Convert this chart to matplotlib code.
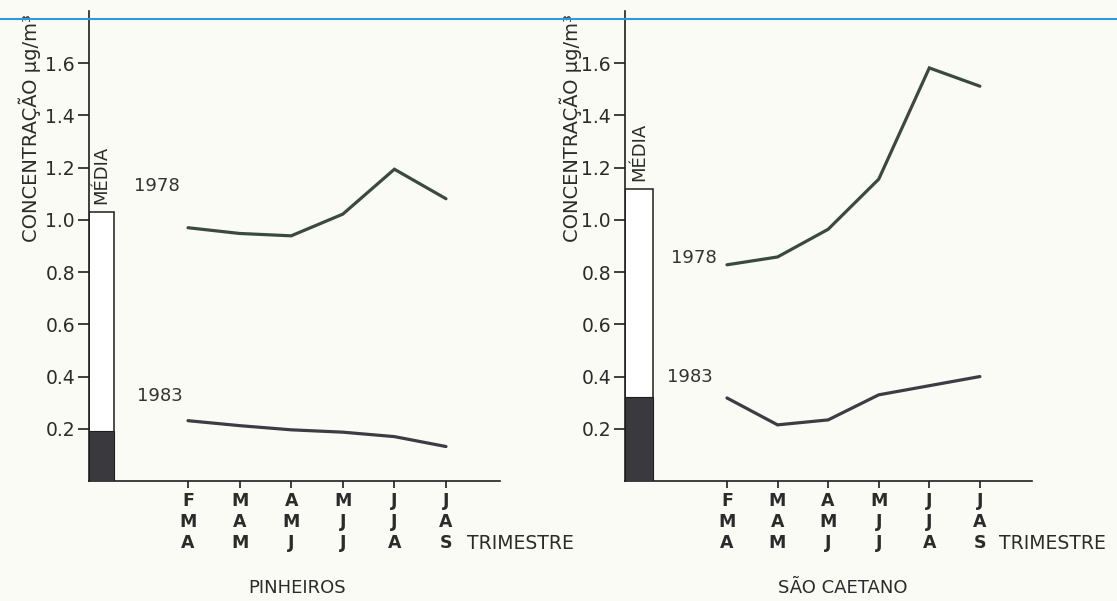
import matplotlib.pyplot as plt
from matplotlib.lines import Line2D

# trimestres (3 letter columns)
trimestres = ["F\nM\nA", "M\nA\nM", "A\nM\nJ", "M\nJ\nJ", "J\nJ\nA", "J\nA\nS"]

# Pinheiros
pin_1978 = [0.97, 0.948, 0.939, 1.022, 1.194, 1.081]
pin_1983 = [0.231, 0.212, 0.196, 0.187, 0.170, 0.132]
pin_media_1978 = 1.03
pin_media_1983 = 0.19

# Sao Caetano
sc_1978 = [0.828, 0.858, 0.964, 1.156, 1.582, 1.512]
sc_1983 = [0.318, 0.215, 0.234, 0.330, 0.365, 0.400]
sc_media_1978 = 1.12
sc_media_1983 = 0.32

yticks = [0.2, 0.4, 0.6, 0.8, 1.0, 1.2, 1.4, 1.6]

bg = "#fbfbf5"
ink = "#2b2b2b"
col78 = "#3b4a41"
col83 = "#3c3c44"

plt.rcParams['font.family'] = ['DejaVu Sans']

fig = plt.figure(figsize=(11.17, 6.01), dpi=100, facecolor=bg)


def panel(rect, xlim, vals78, vals83, m78, m83, bar_x, bar_w, title,
          lab78, lab83, title_x, ylab_x):
    ax = fig.add_axes(rect)
    ax.set_facecolor("none")
    x = list(range(len(trimestres)))
    ax.set_xlim(*xlim)
    ax.set_ylim(0, 1.8)
    for s in ["top", "right"]:
        ax.spines[s].set_visible(False)
    for s in ["left", "bottom"]:
        ax.spines[s].set_linewidth(1.2)
        ax.spines[s].set_color("#1e1e1e")

    # media bar
    ax.bar(bar_x, m78, bar_w, align="edge", color="white", edgecolor="#1e1e1e",
           linewidth=1.1, zorder=2)
    ax.bar(bar_x, m83, bar_w, align="edge", color="#3a3a3e", edgecolor="#1e1e1e",
           linewidth=0.8, zorder=3)
    ax.text(bar_x + bar_w / 2, m78 + 0.03, "MÉDIA", rotation=90, ha="center",
            va="bottom", fontsize=13, color=ink)

    ax.plot(x, vals78, color=col78, lw=2.3, solid_capstyle="round",
            solid_joinstyle="miter")
    ax.plot(x, vals83, color=col83, lw=2.3, solid_capstyle="round",
            solid_joinstyle="miter")

    ax.text(lab78[0], lab78[1], "1978", ha="center", va="center", fontsize=13,
            color="#333333")
    ax.text(lab83[0], lab83[1], "1983", ha="center", va="center", fontsize=13,
            color="#333333")

    ax.set_xticks(x)
    ax.set_xticklabels(trimestres, fontsize=12.5, fontweight="bold",
                       linespacing=1.22, color=ink)
    ax.tick_params(axis="x", direction="out", length=5, width=1.2, pad=3,
                   colors="#1e1e1e")
    for t in ax.get_xticklabels():
        t.set_color(ink)

    ax.set_yticks(yticks)
    ax.set_yticklabels([f"{v:.1f}" for v in yticks], fontsize=13.5, color=ink)
    ax.tick_params(axis="y", direction="out", length=8, width=1.2, pad=2,
                   colors="#1e1e1e")
    for t in ax.get_yticklabels():
        t.set_color(ink)

    ax.text(0.92, -0.132, "TRIMESTRE", transform=ax.transAxes, ha="left",
            va="center", fontsize=13.5, color=ink)
    ax.text(title_x, -0.228, title, transform=ax.transAxes, ha="center",
            va="center", fontsize=13, color=ink)
    ax.text(ylab_x, 0.75, "CONCENTRAÇÃO μg/m³", transform=ax.transAxes,
            rotation=90, ha="center", va="center", fontsize=14, color=ink)
    return ax


panel([89 / 1117, 120 / 601, 411 / 1117, 470 / 601], (-1.919, 6.047),
      pin_1978, pin_1983, pin_media_1978, pin_media_1983, -1.919, 0.485,
      "PINHEIROS", (-0.6, 1.13), (-0.54, 0.325), 0.506, -0.1436)

panel([625 / 1117, 120 / 601, 407 / 1117, 470 / 601], (-2.016, 6.03),
      sc_1978, sc_1983, sc_media_1978, sc_media_1983, -2.016, 0.554,
      "SÃO CAETANO", (-0.65, 0.855), (-0.73, 0.40), 0.536, -0.133)

# blue rule across the top of the scan
fig.add_artist(Line2D([0, 1], [0.968, 0.968], transform=fig.transFigure,
                      color="#2a9be0", lw=1.5))

fig.savefig("out.png", dpi=100, facecolor=bg)
